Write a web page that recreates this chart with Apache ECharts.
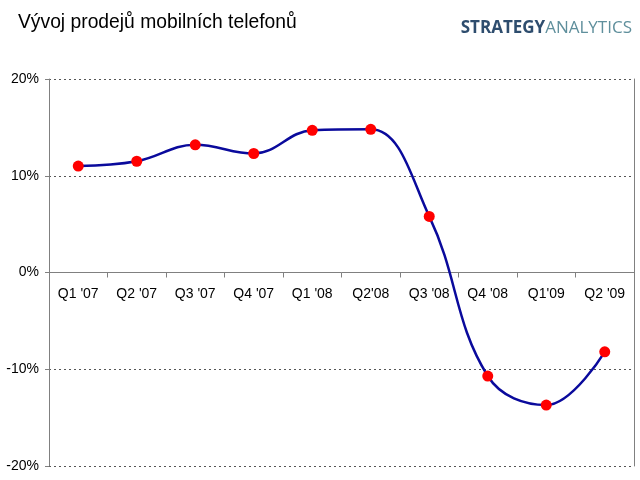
<!DOCTYPE html>
<html>
<head>
<meta charset="utf-8">
<script src="https://cdn.jsdelivr.net/npm/echarts@6/dist/echarts.min.js"></script>
<style>
  html, body { margin: 0; padding: 0; background: #fff; }
  #chart { width: 640px; height: 480px; }
</style>
</head>
<body>
<div id="chart"></div>
<script>
// quarters and year-on-year growth (%)
const quarters = ["Q1 '07", "Q2 '07", "Q3 '07", "Q4 '07", "Q1 '08", "Q2'08", "Q3 '08", "Q4 '08", "Q1'09", "Q2 '09"]
const growth = [11.0, 11.5, 13.2, 12.3, 14.7, 14.8, 5.8, -10.7, -13.7, -8.2]
const yTicks = [-20, -10, 0, 10, 20]

const gridTop = 79
const gridBottom = 14
const plotHeight = 480 - gridTop - gridBottom

const chart = echarts.init(document.getElementById('chart'))

const option = {
  animation: false,
  backgroundColor: '#fff',
  textStyle: { fontFamily: 'Liberation Sans, Arial, sans-serif' },
  title: {
    text: 'Vývoj prodejů mobilních telefonů',
    left: 13,
    top: 8,
    textStyle: { fontSize: 19.3, fontWeight: 'normal', color: '#000', fontFamily: 'Liberation Sans, Arial' }
  },
  graphic: [
    {
      type: 'text',
      right: 8,
      top: 20,
      style: {
        text: '{a|STRATEGY}{b|ANALYTICS}',
        rich: {
          a: { fontSize: 17, fontWeight: 'bold', fill: '#2e4d6e', fontFamily: 'Open Sans, sans-serif' },
          b: { fontSize: 17, fill: '#5f8f9c', fontFamily: 'Open Sans, sans-serif' }
        }
      }
    }
  ],
  grid: { left: 49, right: 6, top: gridTop, bottom: gridBottom, containLabel: false, outerBoundsMode: 'none' },
  xAxis: {
    type: 'category',
    data: quarters,
    boundaryGap: true,
    position: 'bottom',
    // the 0% line sits half way up the plot (-20..20)
    offset: -plotHeight / 2,
    axisLine: { onZero: false, lineStyle: { color: '#808080', width: 1 } },
    axisTick: { show: true, length: 5, lineStyle: { color: '#808080' } },
    axisLabel: { color: '#000', fontSize: 14, margin: 15, interval: 0 },
    splitLine: { show: false }
  },
  yAxis: [
    {
      type: 'value',
      min: yTicks[0],
      max: yTicks[yTicks.length - 1],
      interval: 10,
      axisLine: { show: true, lineStyle: { color: '#808080' } },
      axisTick: { show: true, length: 4, lineStyle: { color: '#808080' } },
      axisLabel: { color: '#000', fontSize: 14, formatter: '{value}%', margin: 10 },
      splitLine: { show: true, lineStyle: { color: '#555', type: [2, 3], width: 1 } }
    },
    {
      type: 'value',
      position: 'right',
      min: yTicks[0],
      max: yTicks[yTicks.length - 1],
      interval: 10,
      axisLine: { show: true, onZero: false, lineStyle: { color: '#808080' } },
      axisTick: { show: false },
      axisLabel: { show: false },
      splitLine: { show: false }
    }
  ],
  series: [
    {
      type: 'line',
      data: growth,
      smooth: 0.4,
      symbol: 'circle',
      symbolSize: 11,
      lineStyle: { color: '#0a0a9c', width: 2.5 },
      itemStyle: { color: '#ff0000' },
      z: 3
    }
  ]
}

chart.setOption(option)
</script>
</body>
</html>
